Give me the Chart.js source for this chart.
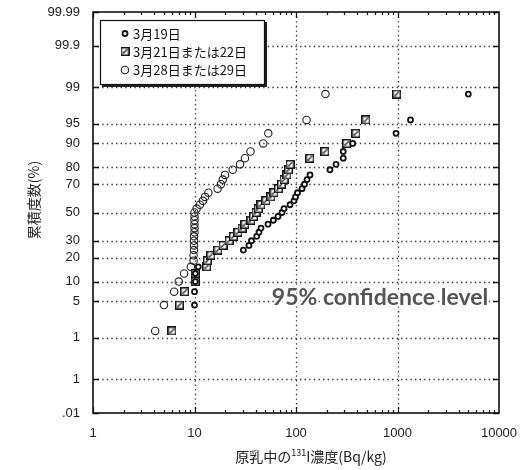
<!DOCTYPE html>
<html><head><meta charset="utf-8">
<script src="https://cdn.jsdelivr.net/npm/chart.js@4"></script>
<style>html,body{margin:0;padding:0;background:#fff}#wrap{width:523px;height:470px}</style>
</head><body><div id="wrap"><canvas id="c" width="523" height="470"></canvas></div>
<script>
// ---- data ----
const seriesNames = ['3月19日', '3月21日または22日', '3月28日または29日'];

// 3月19日 : concentration (Bq/kg) and cumulative frequency (%)
const conc0319 = [10.0, 10.0, 10.2, 10.2, 10.9, 30.3, 34.4, 36.4, 41.0, 43.2, 45.2, 53.0, 59.8, 66.5, 72.8, 76.2, 87.3, 95.6, 98.9, 103.5, 114.6, 121.3, 128.4, 137.4, 216, 248, 292, 292, 362, 967, 1343, 4984];
const cum0319  = [4.3, 7.1, 10.0, 12.9, 15.7, 24.3, 27.1, 30.0, 32.9, 35.7, 38.6, 41.4, 44.3, 47.1, 50.0, 52.9, 55.7, 58.6, 61.4, 64.3, 67.1, 70.0, 72.9, 75.7, 78.6, 81.4, 84.3, 87.1, 90.0, 92.9, 95.7, 98.6];

// 3月21日または22日
const conc0321 = [6.0, 7.1, 8.0, 10.2, 10.2, 13.2, 13.4, 14.5, 17.0, 19.1, 21.9, 24.2, 26.8, 29.4, 31.4, 36.0, 38.1, 40.4, 42.5, 45.2, 50.6, 56.7, 60.7, 67.2, 71.9, 76.2, 81.5, 84.4, 87.3, 137, 193, 316, 390, 489, 982];
const cum0321  = [1.4, 4.3, 7.1, 10.0, 12.9, 15.7, 18.6, 21.4, 24.3, 27.1, 30.0, 32.9, 35.7, 38.6, 41.4, 44.3, 47.1, 50.0, 52.9, 55.7, 58.6, 61.4, 64.3, 67.1, 70.0, 72.9, 75.7, 78.6, 81.4, 84.3, 87.1, 90.0, 92.9, 95.7, 98.6];

// 3月28日または29日
const conc0328 = [4.1, 5.0, 6.3, 7.0, 7.9, 9.2, 9.8, 9.8, 9.9, 9.9, 9.9, 9.9, 10.0, 10.0, 10.0, 10.0, 10.0, 10.0, 10.5, 11.3, 12.1, 12.7, 13.7, 16.9, 18.2, 19.0, 20.0, 23.8, 28.1, 31.4, 35.6, 47.6, 53.3, 127, 195];
const cum0328  = [1.4, 4.3, 7.1, 10.0, 12.9, 15.7, 18.6, 21.4, 24.3, 27.1, 30.0, 32.9, 35.7, 38.6, 41.4, 44.3, 47.1, 50.0, 52.9, 55.7, 58.6, 61.4, 64.3, 67.1, 70.0, 72.9, 75.7, 78.6, 81.4, 84.3, 87.1, 90.0, 92.9, 95.7, 98.6];

// ticks
const yTickPercents = [0.01, 0.1, 1, 5, 10, 20, 30, 50, 70, 80, 90, 95, 99, 99.9, 99.99];
const yTickLabels   = ['.01', '1', '1', '5', '10', '20', '30', '50', '70', '80', '90', '95', '99', '99.9', '99.99'];
const xTickValues   = [1, 10, 100, 1000, 10000];
const xTickLabels   = ['1', '10', '100', '1000', '10000'];
const xGridValues   = [10, 100, 1000];

const yTitle = '累積度数(%)';
const xTitleParts = ['原乳中の', '131', 'I濃度(Bq/kg)'];
const noteText = '95% confidence level';

// ---- normal-probability transform (scale transform only) ----
function probit(p) {
  const a=[-3.969683028665376e+01,2.209460984245205e+02,-2.759285104469687e+02,1.383577518672690e+02,-3.066479806614716e+01,2.506628277459239e+00];
  const b=[-5.447609879822406e+01,1.615858368580409e+02,-1.556989798598866e+02,6.680131188771972e+01,-1.328068155288572e+01];
  const c=[-7.784894002430293e-03,-3.223964580411365e-01,-2.400758277161838e+00,-2.549732539343734e+00,4.374664141464968e+00,2.938163982698783e+00];
  const d=[7.784695709041462e-03,3.224671290700398e-01,2.445134137142996e+00,3.754408661907416e+00];
  const plow=0.02425, phigh=1-plow; let q, r;
  if (p < plow) { q=Math.sqrt(-2*Math.log(p)); return (((((c[0]*q+c[1])*q+c[2])*q+c[3])*q+c[4])*q+c[5])/((((d[0]*q+d[1])*q+d[2])*q+d[3])*q+1); }
  if (p <= phigh) { q=p-0.5; r=q*q; return (((((a[0]*r+a[1])*r+a[2])*r+a[3])*r+a[4])*r+a[5])*q/(((((b[0]*r+b[1])*r+b[2])*r+b[3])*r+b[4])*r+1); }
  q=Math.sqrt(-2*Math.log(1-p)); return -(((((c[0]*q+c[1])*q+c[2])*q+c[3])*q+c[4])*q+c[5])/((((d[0]*q+d[1])*q+d[2])*q+d[3])*q+1);
}
const toPoints = (xs, ps) => xs.map((v, i) => ({ x: v, y: probit(ps[i] / 100) }));

// ---- marker glyphs ----
function makeSquare() {
  const s = 9, cv = document.createElement('canvas'); cv.width = s; cv.height = s;
  const g = cv.getContext('2d');
  g.fillStyle = '#fff'; g.fillRect(0, 0, s, s);
  g.strokeStyle = '#151515'; g.lineWidth = 1.5; g.strokeRect(0.75, 0.75, s - 1.5, s - 1.5);
  g.beginPath(); g.moveTo(2.3, s - 2.3); g.lineTo(s - 2.3, 2.3); g.lineWidth = 1.4; g.strokeStyle = '#333'; g.stroke();
  g.beginPath(); g.moveTo(2, s - 2); g.lineTo(2, 4.5); g.lineTo(4.5, s - 2); g.closePath(); g.fillStyle = '#777'; g.fill();
  return cv;
}
const squareGlyph = makeSquare();

const styleS1 = { pointStyle: 'circle', pointRadius: 2.5, borderWidth: 1.8, borderColor: '#111', backgroundColor: '#fff' };
const styleS3 = { pointStyle: 'circle', pointRadius: 3.7, borderWidth: 1.1, borderColor: '#222', backgroundColor: 'rgba(255,255,255,0)' };

function drawMarker(ctx, kind, x, y) {
  ctx.save();
  if (kind === 1) {
    ctx.drawImage(squareGlyph, x - 4.5, y - 4.5);
  } else {
    const st = kind === 0 ? styleS1 : styleS3;
    ctx.beginPath(); ctx.arc(x, y, st.pointRadius, 0, Math.PI * 2);
    ctx.fillStyle = st.backgroundColor; ctx.fill();
    ctx.lineWidth = st.borderWidth; ctx.strokeStyle = st.borderColor; ctx.stroke();
  }
  ctx.restore();
}

// ---- plugin: grid, frame, ticks, legend, titles, note ----
const decor = {
  id: 'decor',
  beforeDatasetsDraw(chart) {
    const { ctx, chartArea: a, scales: { x, y } } = chart;
    ctx.save();
    ctx.strokeStyle = 'rgba(20,20,20,0.85)';
    ctx.lineWidth = 1.3;
    ctx.setLineDash([1.4, 3.2]);
    yTickPercents.forEach(p => {
      if (p === 0.01 || p === 99.99) return;
      const py = Math.round(y.getPixelForValue(probit(p / 100))) + 0.5;
      ctx.beginPath(); ctx.moveTo(a.left, py); ctx.lineTo(a.right, py); ctx.stroke();
    });
    xGridValues.forEach(v => {
      const px = Math.round(x.getPixelForValue(v)) + 0.5;
      ctx.beginPath(); ctx.moveTo(px, a.top); ctx.lineTo(px, a.bottom); ctx.stroke();
    });
    ctx.setLineDash([]);
    ctx.strokeStyle = '#111';
    ctx.lineWidth = 1.5;
    yTickPercents.forEach(p => {
      const py = Math.round(y.getPixelForValue(probit(p / 100))) + 0.5;
      ctx.beginPath(); ctx.moveTo(a.left, py); ctx.lineTo(a.left + 6, py); ctx.stroke();
      ctx.beginPath(); ctx.moveTo(a.right, py); ctx.lineTo(a.right - 6, py); ctx.stroke();
    });
    ctx.lineWidth = 1.2;
    for (let dec = 1; dec < 10000; dec *= 10) {
      for (let m = 1; m <= 9; m++) {
        const px = Math.round(x.getPixelForValue(dec * m)) + 0.5;
        const len = m === 1 ? 6 : 3;
        ctx.beginPath(); ctx.moveTo(px, a.bottom); ctx.lineTo(px, a.bottom - len); ctx.stroke();
        ctx.beginPath(); ctx.moveTo(px, a.top); ctx.lineTo(px, a.top + len); ctx.stroke();
      }
    }
    ctx.lineWidth = 1.6;
    ctx.strokeRect(a.left, a.top, a.right - a.left, a.bottom - a.top);
    ctx.restore();
  },
  afterDatasetsDraw(chart) {
    const { ctx } = chart;
    ctx.save();
    const L = 100, T = 20, W = 164, H = 64;
    ctx.fillStyle = '#222'; ctx.fillRect(L + 2, T + 2, W + 1, H + 1);
    ctx.fillStyle = '#fff'; ctx.fillRect(L, T, W, H);
    ctx.strokeStyle = '#111'; ctx.lineWidth = 1.2; ctx.strokeRect(L + 0.5, T + 0.5, W, H);
    ctx.font = '13px "Noto Sans CJK JP"';
    ctx.fillStyle = '#111'; ctx.textBaseline = 'middle'; ctx.textAlign = 'left';
    const rows = [33.5, 51.5, 70];
    seriesNames.forEach((n, i) => {
      drawMarker(ctx, i, 125, rows[i]);
      ctx.fillText(n, 133, rows[i] + 0.5);
    });
    ctx.font = 'bold 23px Lato';
    ctx.textAlign = 'center'; ctx.textBaseline = 'alphabetic';
    ctx.lineJoin = 'round';
    ctx.strokeStyle = '#fff'; ctx.lineWidth = 4; ctx.strokeText(noteText, 380, 305);
    ctx.fillStyle = '#555'; ctx.fillText(noteText, 380, 305);
    ctx.restore();
  },
  afterDraw(chart) {
    const { ctx } = chart;
    ctx.save();
    ctx.fillStyle = '#222';
    ctx.translate(34, 200); ctx.rotate(-Math.PI / 2);
    ctx.font = '14px "Noto Sans CJK JP"'; ctx.textAlign = 'center'; ctx.textBaseline = 'middle';
    ctx.fillText(yTitle, 0, 0);
    ctx.restore();
    ctx.save();
    ctx.fillStyle = '#222'; ctx.textBaseline = 'alphabetic'; ctx.textAlign = 'left';
    const big = '14px "Noto Sans CJK JP"', small = '9px "Noto Sans CJK JP"';
    ctx.font = big; const w0 = ctx.measureText(xTitleParts[0]).width, w2 = ctx.measureText(xTitleParts[2]).width;
    ctx.font = small; const w1 = ctx.measureText(xTitleParts[1]).width;
    let sx = 311 - (w0 + w1 + w2) / 2; const base = 462;
    ctx.font = big; ctx.fillText(xTitleParts[0], sx, base); sx += w0;
    ctx.font = small; ctx.fillText(xTitleParts[1], sx, base - 6); sx += w1;
    ctx.font = big; ctx.fillText(xTitleParts[2], sx, base);
    ctx.restore();
  }
};

new Chart(document.getElementById('c'), {
  type: 'scatter',
  data: {
    datasets: [
      { label: seriesNames[0], data: toPoints(conc0319, cum0319), ...styleS1 },
      { label: seriesNames[1], data: toPoints(conc0321, cum0321), pointStyle: squareGlyph, pointRadius: 4.5 },
      { label: seriesNames[2], data: toPoints(conc0328, cum0328), ...styleS3 }
    ]
  },
  options: {
    responsive: false, animation: false, devicePixelRatio: 1,
    layout: { padding: { left: 0, right: 24, top: 12, bottom: 0 } },
    plugins: { legend: { display: false }, tooltip: { enabled: false } },
    scales: {
      x: {
        type: 'logarithmic', min: 1, max: 10000,
        grid: { display: false, drawTicks: false }, border: { display: false },
        afterBuildTicks: s => { s.ticks = xTickValues.map(v => ({ value: v, major: true })); },
        afterFit: s => { s.height = 57; s.paddingLeft = 0; s.paddingRight = 0; },
        ticks: { autoSkip: false, maxRotation: 0, padding: 13, color: '#222', font: { family: 'Liberation Sans', size: 13 },
                 callback: (v, i) => xTickLabels[i] }
      },
      y: {
        type: 'linear', min: probit(0.0001), max: probit(0.9999),
        grid: { display: false, drawTicks: false }, border: { display: false },
        afterBuildTicks: s => { s.ticks = yTickPercents.map(p => ({ value: probit(p / 100) })); },
        afterFit: s => { s.width = 93; s.paddingTop = 0; s.paddingBottom = 0; },
        ticks: { autoSkip: false, padding: 13, color: '#222', font: { family: 'Liberation Sans', size: 13 },
                 callback: (v, i) => yTickLabels[i] }
      }
    }
  },
  plugins: [decor]
});
</script>
</body></html>
